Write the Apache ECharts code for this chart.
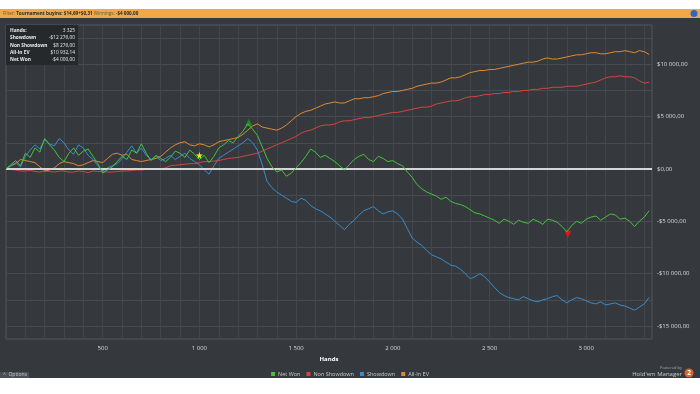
<!DOCTYPE html>
<html><head><meta charset="utf-8">
<script src="https://cdn.jsdelivr.net/npm/echarts@6/dist/echarts.min.js"></script>
<style>html,body{margin:0;padding:0;background:#fff;}#c{width:700px;height:394px;}</style>
</head><body><div id="c"></div>
<script>
const hands = [
0,25,50,75,100,125,150,175, 200,225,250,275,300,325,350,375, 400,425,450,475,500,525,550,575,
600,625,650,675,700,725,750,775, 800,825,850,875,900,925,950,975, 1000,1025,1050,1075,1100,1125,1150,1175,
1200,1225,1250,1275,1300,1325,1350,1375, 1400,1425,1450,1475,1500,1525,1550,1575, 1600,1625,1650,1675,1700,1725,1750,1775,
1800,1825,1850,1875,1900,1925,1950,1975, 2000,2025,2050,2075,2100,2125,2150,2175, 2200,2225,2250,2275,2300,2325,2350,2375,
2400,2425,2450,2475,2500,2525,2550,2575, 2600,2625,2650,2675,2700,2725,2750,2775, 2800,2825,2850,2875,2900,2925,2950,2975,
3000,3025,3050,3075,3100,3125,3150,3175, 3200,3225,3250,3275,3300,3325];
const netWon = [
0,400,800,300,1500,1100,2000,1600, 2900,2300,1800,1100,700,1500,2000,1300, 1700,1900,1200,500,-400,-100,200,700,
1200,900,1800,1500,2400,1500,800,1300, 1000,700,1100,1700,1500,1100,1800,1400, 900,1300,600,1200,2000,2300,2700,2500,
3100,3600,4300,3800,3200,2100,1000,200, -300,-100,-700,-400,100,600,1200,1900, 1600,1100,1300,1000,700,300,-100,400,
900,1200,1400,900,700,1200,1000,700, 800,500,300,-300,-800,-1500,-1900,-2200, -2400,-2600,-2900,-2700,-3100,-3300,-3400,-3600,
-3900,-4200,-4300,-4500,-4700,-4900,-5200,-4800, -5000,-5300,-4900,-5100,-5200,-4800,-5000,-5300, -4800,-4900,-5100,-5500,-6000,-5400,-5000,-5200,
-4800,-4600,-4500,-4900,-4600,-4300,-4400,-4800, -4700,-5000,-5500,-5000,-4600,-4000];
const nonShowdown = [
0,-50,-100,-200,-200,-150,-250,-300, -200,-250,-300,-200,-200,-300,-300,-200, -250,-350,-200,-250,-250,-300,-300,-250,
-200,-200,-150,-100,-100,-50,-50,0, 0,100,300,350,400,450,500,500, 600,700,700,750,800,900,1000,1050,
1100,1200,1300,1400,1500,1700,1900,2100, 2300,2500,2700,2900,3100,3400,3600,3700, 3900,4100,4200,4200,4300,4500,4600,4600,
4700,4800,4900,4900,5000,5100,5200,5300, 5400,5400,5500,5600,5700,5800,5900,5900, 6000,6200,6300,6400,6500,6500,6600,6800,
6900,6900,7000,7100,7100,7200,7200,7300, 7300,7400,7400,7500,7500,7600,7600,7700, 7700,7800,7800,7800,7900,7900,7900,8000,
8100,8200,8300,8500,8700,8800,8800,8900, 8800,8800,8700,8400,8200,8276];
const showdown = [
0,300,600,200,1200,1800,2300,1900, 2800,2400,2200,2900,2500,1800,1400,2300, 2000,1300,900,300,-200,100,300,500,
1000,1600,2200,1500,2000,1300,900,1200, 800,1000,1300,900,1200,1500,1000,700, 400,-100,-500,300,1000,1300,1600,1900,
2200,2500,2900,2500,1800,400,-1200,-1800, -2200,-2500,-2800,-3100,-3200,-2800,-3000,-3500, -3800,-4000,-4300,-4600,-5000,-5400,-5800,-5300,
-4900,-4400,-4000,-3800,-3600,-4000,-4300,-4100, -4000,-4300,-4800,-5700,-6600,-7000,-7300,-7800, -8200,-8400,-8600,-8900,-9200,-9300,-9600,-10000,
-10500,-10300,-10000,-10300,-10800,-11300,-11800,-12100, -12300,-12400,-12500,-12200,-12400,-12600,-12700,-12500, -12400,-12200,-12100,-12500,-12800,-12500,-12300,-12400,
-12600,-12800,-12900,-12700,-13000,-12900,-12800,-13000, -13100,-13300,-13500,-13200,-12900,-12276];
const allInEV = [
0,300,500,900,800,700,600,200, -200,-100,100,500,700,600,500,300, 400,600,800,700,600,1000,1400,1500,
1300,1400,900,800,700,800,900,1000, 1200,1600,2000,2300,2500,2600,2300,2200, 2400,2300,2100,2300,2600,2700,2800,2900,
3000,3300,3700,4100,4300,4000,3900,3800, 3700,3900,4200,4600,5000,5300,5500,5600, 5800,6000,6200,6300,6400,6300,6300,6500,
6700,6700,6800,6800,6900,7000,7200,7300, 7400,7400,7500,7600,7700,7900,8000,8100, 8200,8200,8300,8500,8700,8700,8800,9000,
9200,9300,9400,9400,9500,9500,9600,9700, 9800,9900,10000,10100,10200,10200,10300,10500, 10600,10500,10500,10600,10700,10800,10900,10900,
11000,11100,11100,11000,11000,11100,11200,11200, 11300,11200,11100,11300,11200,10932];
const yTicks = [-15000,-10000,-5000,0,5000,10000];
const xTicks = [500,1000,1500,2000,2500,3000];
const infoRows = [["Hands:","3 325"],["Showdown","-$12 276,00"],["Non Showdown","$8 276,00"],["All-In EV","$10 932,14"],["Net Won","-$4 000,00"]];

const pair = arr => hands.map((h,i)=>[h,arr[i]]);
function fmtNum(v){return Math.abs(v).toString().replace(/\B(?=(\d{3})+(?!\d))/g,' ');}
function fmtMoney(v){return (v<0?'-':'')+'$'+fmtNum(v)+',00';}
const F = '"Open Sans", "DejaVu Sans", sans-serif';
const chart = echarts.init(document.getElementById('c'));
const star = 'path://M50,0 L61,35 L98,35 L68,57 L79,91 L50,70 L21,91 L32,57 L2,35 L39,35 Z';
const lineBase = {type:'line', showSymbol:false, symbol:'none', lineStyle:{width:1}, animation:false};
const infoGraphics = [];
infoRows.forEach((r,i)=>{
  infoGraphics.push({type:'text', x:10, y:28+i*7.4, z:51, style:{text:r[0], fill:'#e8e8e8', font:'bold 4.8px '+F}});
  infoGraphics.push({type:'text', x:75, y:28+i*7.4, z:51, style:{text:r[1], fill:'#e8e8e8', font:'4.8px '+F, align:'right'}});
});
chart.setOption({
  backgroundColor:'#ffffff',
  animation:false,
  textStyle:{fontFamily:F},
  grid:{left:6, right:48, top:25, bottom:55, containLabel:false, outerBoundsMode:'none', show:true, borderColor:'#55595e', borderWidth:1, backgroundColor:'transparent'},
  legend:{top:369, left:'center', padding:[2,5,2,5], itemWidth:4, itemHeight:4, itemGap:6, icon:'rect',
    textStyle:{color:'#c8c8c8', fontSize:5.5, fontFamily:F, padding:[0,0,0,-2]},
    data:['Net Won','Non Showdown','Showdown','All-In EV']},
  xAxis:{type:'value', min:0, max:3340, interval:100, name:'Hands', nameLocation:'middle', nameGap:17,
    nameTextStyle:{color:'#ffffff', fontWeight:'bold', fontSize:6},
    axisLine:{show:false}, axisTick:{show:false},
    axisLabel:{color:'#d8d8d8', fontSize:6, margin:6, formatter:v=>xTicks.includes(v)?fmtNum(v):''},
    splitLine:{show:true, lineStyle:{color:'#43474c', width:1}}},
  yAxis:{type:'value', position:'right', min:-16250, max:13750, interval:1250, name:'Winnings', nameLocation:'middle', nameGap:30, nameRotate:-90,
    nameTextStyle:{color:'#ffffff', fontWeight:'bold', fontSize:6},
    axisLine:{show:false}, axisTick:{show:false},
    axisLabel:{color:'#d8d8d8', fontSize:6, margin:5, formatter:v=>yTicks.includes(v)?fmtMoney(v):''},
    splitLine:{show:true, lineStyle:{color:['transparent','#484c51']}}},
  graphic:[
    {type:'rect', shape:{x:0,y:0,width:700,height:9}, style:{fill:'#ffffff'}, z:-10},
    {type:'rect', shape:{x:0,y:9,width:700,height:9}, style:{fill:'#f0a94a'}, z:-10},
    {type:'rect', shape:{x:0,y:18,width:700,height:360}, style:{fill:'#35393d'}, z:-10},
    {type:'text', x:3, y:10.8, z:5, style:{text:'{a|Filter: }{b|Tournament buyins: $14,69+$0,31 }{a|Winnings: }{b|-$4 000,00}',
      rich:{a:{fill:'#6a5530', fontSize:4.6, fontFamily:F}, b:{fill:'#2a2a2a', fontSize:4.6, fontWeight:'bold', fontFamily:F}}}},
    {type:'circle', shape:{cx:694, cy:13.5, r:3.5}, style:{fill:'#2b6cb5'}, z:5},
    {type:'rect', shape:{x:6,y:25,width:72,height:40}, style:{fill:'#26292c'}, z:50},
    ...infoGraphics,
    {type:'rect', shape:{x:0,y:372,width:29,height:6}, style:{fill:'#4b4f54'}, z:5},
    {type:'text', x:3, y:372.5, z:6, style:{text:'^  Options', fill:'#c8c8c8', font:'5px '+F}},
    {type:'text', x:682, y:366, z:5, style:{text:'Powered by', fill:'#a8a8a8', font:'4px '+F, align:'right'}},
    {type:'text', x:682, y:371, z:5, style:{text:"Hold'em Manager", fill:'#c8c8c8', font:'6px '+F, align:'right'}},
    {type:'circle', shape:{cx:689, cy:373, r:4.5}, style:{fill:'#d9632a'}, z:5},
    {type:'text', x:689, y:373, z:6, style:{text:'2', fill:'#ffffff', font:'bold 6.5px '+F, align:'center', verticalAlign:'middle'}}
  ],
  series:[
    Object.assign({}, lineBase, {name:'Non Showdown', data:pair(nonShowdown), color:'#d4453f', z:2,
      markLine:{silent:true, symbol:'none', label:{show:false}, lineStyle:{color:'#d6d6d6', width:2, type:'solid'}, data:[{yAxis:0}]}}),
    Object.assign({}, lineBase, {name:'All-In EV', data:pair(allInEV), color:'#e08a35', z:3}),
    Object.assign({}, lineBase, {name:'Showdown', data:pair(showdown), color:'#3a8ccc', z:4}),
    Object.assign({}, lineBase, {name:'Net Won', data:pair(netWon), color:'#45c23f', z:5,
      markPoint:{symbolSize:7, label:{show:false}, data:[
        {coord:[1255,4450], symbol:'triangle', itemStyle:{color:'#1d8a1d'}},
        {coord:[2905,-6250], symbol:'triangle', symbolRotate:180, itemStyle:{color:'#e01515'}},
        {coord:[1000,1300], symbol:star, itemStyle:{color:'#f2e23a'}}
      ]}})
  ]
});
</script></body></html>
